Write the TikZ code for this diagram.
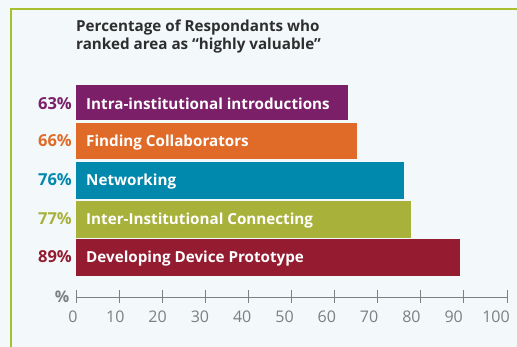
\documentclass[tikz,border=0pt]{standalone}
\usepackage{fontspec}
\setmainfont{Open Sans}
\begin{document}
\begin{tikzpicture}[x=1pt,y=-1pt,
  barbox/.style={fill=#1, draw=none},
  barlabel/.style={anchor=base west, text=white, font=\bfseries\fontsize{15.2}{15.2}\selectfont, inner sep=0pt},
  pctlabel/.style={anchor=base east, text=#1, font=\bfseries\fontsize{16.5}{16.5}\selectfont, inner sep=0pt},
  ticklabel/.style={anchor=base, text=axisgray, font=\fontsize{16}{16}\selectfont, inner sep=0pt}]
\definecolor{bgc}{HTML}{F3F8FB}
\definecolor{framegreen}{HTML}{A9BF2C}
\definecolor{cpurple}{HTML}{7A1F68}
\definecolor{corange}{HTML}{E06A28}
\definecolor{cteal}{HTML}{0088AD}
\definecolor{colive}{HTML}{A8B23A}
\definecolor{ccrimson}{HTML}{951B30}
\definecolor{axisgray}{HTML}{7D7F82}
\definecolor{titlec}{HTML}{2E2E2E}
\useasboundingbox (0,0) rectangle (517,347);
\fill[bgc] (0,0) rectangle (517,347);
\draw[framegreen, line width=2pt] (11,347) -- (11,9.5) -- (517,9.5);
\node[anchor=base west, align=left, text=titlec, font=\bfseries\fontsize{15.2}{17.5}\selectfont, inner sep=0pt] (title) at (76,49.3) {Percentage of Respondants who\\ranked area as “highly valuable”};
% bars
\fill[barbox=cpurple] (76,85) rectangle (347.5,120);
\fill[barbox=corange] (76,123) rectangle (357,159.5);
\fill[barbox=cteal] (76,162) rectangle (404,199);
\fill[barbox=colive] (76,201) rectangle (411,238);
\fill[barbox=ccrimson] (76,239.5) rectangle (460,276);
\node[barlabel] (l1) at (86,109.3) {Intra-institutional introductions};
\node[barlabel] (l2) at (86,146.5) {Finding Collaborators};
\node[barlabel] (l3) at (86,185.5) {Networking};
\node[barlabel] (l4) at (86,225) {Inter-Institutional Connecting};
\node[barlabel] (l5) at (86,262.5) {Developing Device Prototype};
\node[pctlabel=cpurple] (p1) at (72,109.3) {63\%};
\node[pctlabel=corange] (p2) at (72,146.5) {66\%};
\node[pctlabel=cteal] (p3) at (72,185.5) {76\%};
\node[pctlabel=colive] (p4) at (72,225) {77\%};
\node[pctlabel=ccrimson] (p5) at (72,262.5) {89\%};
% axis
\draw[axisgray, line width=1.3pt] (76,297.5) -- (507,297.5);
\foreach \i in {0,...,10} {
  \draw[axisgray, line width=1pt] ({76+43.1*\i},290.5) -- ({76+43.1*\i},303.5);
  \pgfmathtruncatemacro{\v}{10*\i}
  \node[ticklabel] (t\i) at ({73+42.3*\i},322.7) {\v};
}
\node[anchor=base east, text=axisgray, font=\bfseries\fontsize{16}{16}\selectfont, inner sep=0pt] (pc) at (69.5,303) {\%};
\end{tikzpicture}
\end{document}
